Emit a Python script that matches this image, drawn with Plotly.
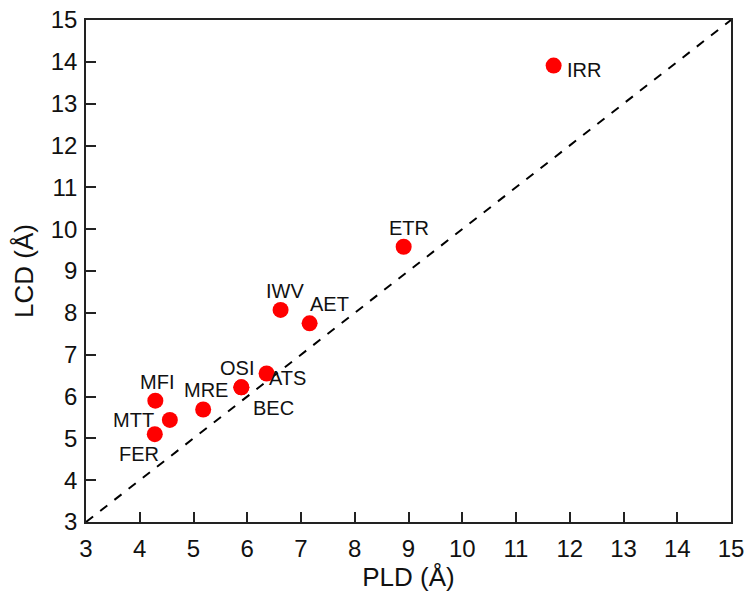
import plotly.graph_objects as go

frameworks = ["IRR", "ETR", "IWV", "AET", "ATS", "OSI", "BEC", "MRE", "MFI", "MTT", "FER"]
pld = [11.70, 8.91, 6.62, 7.16, 6.36, 5.89, 5.89, 5.18, 4.29, 4.56, 4.28]
lcd = [13.91, 9.58, 8.07, 7.75, 6.55, 6.22, 6.22, 5.69, 5.90, 5.44, 5.10]
ticks = list(range(3, 16))

# label offsets (pixels) for each framework label
label_dx = [30, 5, 4, 20, 21, -4, 32, 3, 2, -36, -16]
label_dy = [-4, 19, 19, 19, -5, 19, -21, 19, 19, 0, -20]

font_family = "Liberation Sans, Arial, sans-serif"

fig = go.Figure()
fig.add_trace(go.Scatter(
    x=[ticks[0], ticks[-1]], y=[ticks[0], ticks[-1]], mode="lines",
    line=dict(color="black", width=2, dash="dash"), hoverinfo="skip", showlegend=False))
fig.add_trace(go.Scatter(
    x=pld, y=lcd, mode="markers",
    marker=dict(color="#ff0000", size=16, line=dict(width=0)), showlegend=False))

for name, x, y, dx, dy in zip(frameworks, pld, lcd, label_dx, label_dy):
    fig.add_annotation(x=x, y=y, text=name, showarrow=False, xshift=dx, yshift=dy,
                       font=dict(family=font_family, size=20, color="#111111"))

axis_common = dict(
    range=[3, 15], tickmode="array", tickvals=ticks, ticks="inside", ticklen=10,
    tickwidth=1.5, tickcolor="#222222", showline=True, linecolor="#222222", linewidth=1.5,
    mirror=True, showgrid=False, zeroline=False, automargin=False,
    tickfont=dict(family=font_family, size=24, color="#111111"))

fig.update_xaxes(**axis_common, ticklabelstandoff=4,
                 title=dict(text="PLD (Å)", standoff=6,
                            font=dict(family=font_family, size=26, color="#111111")))
fig.update_yaxes(**axis_common, ticklabelstandoff=2,
                 title=dict(text="LCD (Å)", standoff=10,
                            font=dict(family=font_family, size=26, color="#111111")))

fig.update_layout(
    width=751, height=595, margin=dict(l=86, r=20, t=20, b=73),
    plot_bgcolor="white", paper_bgcolor="white")

fig.write_html("out.html")
